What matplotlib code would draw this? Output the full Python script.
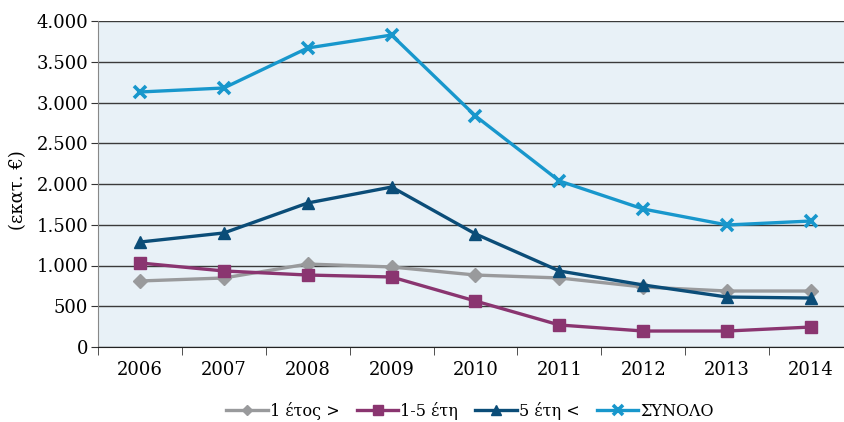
import numpy as np
import matplotlib
matplotlib.use('Agg')
import matplotlib.pyplot as plt
from matplotlib.ticker import FuncFormatter, FixedLocator

# data (εκατ. €)
years = ['2006', '2007', '2008', '2009', '2010', '2011', '2012', '2013', '2014']
under1 = [810, 847, 1018, 982, 883, 847, 736, 687, 687]
oneToFive = [1031, 933, 883, 859, 564, 270, 196, 196, 245]
over5 = [1288, 1399, 1767, 1963, 1387, 933, 761, 613, 601]
total = [3129, 3178, 3669, 3828, 2834, 2037, 1693, 1497, 1546]
labels = ['1 έτος >', '1-5 έτη', '5 έτη <', 'ΣΥΝΟΛΟ']

plt.rcParams['font.family'] = ['DejaVu Serif']

fig = plt.figure(figsize=(8.45, 4.22), dpi=100)
# plot area in pixels: left 98, right 853, top 21, bottom 347
ax = fig.add_axes([98/845, 1-347/422, (853-98)/845, (347-21)/422])
ax.set_facecolor('#e8f1f7')

x = np.arange(len(years))
ax.plot(x, under1, color='#999a9c', lw=2.4, marker='D', ms=7, label=labels[0])
ax.plot(x, oneToFive, color='#8a3570', lw=2.4, marker='s', ms=9, label=labels[1])
ax.plot(x, over5, color='#0b4d78', lw=2.4, marker='^', ms=9, label=labels[2])
ax.plot(x, total, color='#1897cc', lw=2.4, marker='x', ms=9, mew=2.6, label=labels[3])

ax.set_xlim(-0.5, len(years) - 0.5)
ax.set_ylim(0, 4000)
ax.set_yticks(np.arange(0, 4001, 500))
ax.yaxis.set_major_formatter(FuncFormatter(lambda v, p: f'{int(v):,}'.replace(',', '.')))
ax.yaxis.grid(True, color='#3a3a3a', lw=1)
ax.set_axisbelow(True)

# category labels centered, ticks between categories
ax.set_xticks(x)
ax.set_xticklabels(years)
ax.tick_params(axis='x', which='major', length=0, pad=10, labelsize=13)
ax.xaxis.set_minor_locator(FixedLocator(np.arange(-0.5, len(years), 1)))
ax.tick_params(axis='x', which='minor', length=6, color='#333333', direction='out')
ax.tick_params(axis='y', length=5, color='#333333', labelsize=13, pad=2)

for s in ['top', 'right']:
    ax.spines[s].set_visible(False)
ax.spines['left'].set_color('#888888')
ax.spines['bottom'].set_color('#222222')

fig.text(18/845, 1-190/422, '(εκατ. €)', rotation=90, ha='center', va='center', fontsize=13)

fig.legend(loc='center', bbox_to_anchor=(470/845, 1-411/422), ncol=4, frameon=False,
           fontsize=11.5, handlelength=2.6, columnspacing=1.1, handletextpad=0.1,
           markerscale=0.8)

fig.savefig('out.png', dpi=100)
